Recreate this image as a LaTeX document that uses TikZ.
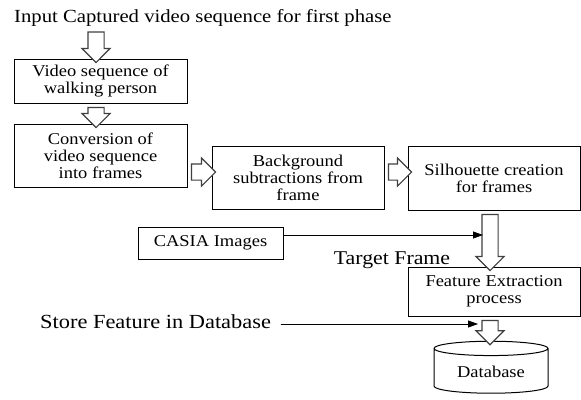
\documentclass[tikz,border=0pt]{standalone}
\usepackage{fontspec}
\setmainfont[FakeStretch=1.12]{Liberation Serif}
\usetikzlibrary{positioning,calc,shapes.arrows,shapes.geometric,arrows.meta}

\begin{document}
\begin{tikzpicture}
	[x=1pt,y=-1pt,line cap=round,
	%Styles
	stage/.style={draw,line width=1pt,align=center,font=\fontsize{16.5}{17}\selectfont,inner sep=2pt},
	caption text/.style={font=\fontsize{18.5}{20}\selectfont,inner sep=0pt},
	hollow arrow/.style={single arrow,draw=black!75,line width=1.1pt,fill=white,inner xsep=0pt,inner ysep=7.5pt,single arrow head extend=6pt},
	feed/.style={-{Triangle[length=10pt,width=7pt]},line width=0.8pt}
	]
	
	\useasboundingbox (0,0) rectangle (581,399);
	
	%Text and stages
	\node[caption text,anchor=west] (title) at (14,18) {Input Captured video sequence for first phase};
	\node[stage,minimum width=173pt,minimum height=44pt] (video) at (100.5,81) {Video sequence of\\walking person};
	\node[stage,minimum width=173pt,minimum height=63pt] (convert) at (100.5,155.5) {Conversion of\\video sequence\\into frames};
	\node[stage,minimum width=172pt,minimum height=63pt] (backsub) at (298,177.5) {Background\\subtractions from\\frame};
	\node[stage,minimum width=172pt,minimum height=64pt] (silh) at (494,178) {Silhouette creation\\for frames};
	\node[stage,minimum width=145pt,minimum height=32pt] (casia) at (210.5,243) {CASIA Images};
	\node[caption text,font=\fontsize{19.5}{20}\selectfont] (target) at (392,260) {Target Frame};
	\node[stage,minimum width=172pt,minimum height=49pt] (feature) at (494,291.5) {Feature Extraction\\process};
	\node[caption text,font=\fontsize{20}{22}\selectfont,anchor=west] (store) at (40,322) {Store Feature in Database};
	\node[stage,cylinder,shape border rotate=90,aspect=0.2,minimum width=114pt,minimum height=52pt] (db) at (491,372) {Database};
	
	%Helper points
	\coordinate (in1) at (96,28);
	\coordinate (row) at (0,172);
	\coordinate (col) at (490,0);
	\coordinate (casiaend) at (483,235);
	\coordinate (storeend) at (478,324);
	
	%Block arrows
	\foreach \s/\t in {in1/in1|-video.north, in1|-video.south/in1|-convert.north,
		convert.east|-row/backsub.west|-row, backsub.east|-row/silh.west|-row,
		col|-silh.south/col|-feature.north, col|-feature.south/col|-db.north}
	{
		\path let \p1=($(\t)-(\s)$), \n1={veclen(\x1,\y1)} in
			(\s) -- (\t) node[midway,sloped,allow upside down,hollow arrow,minimum height=\n1] {};
	}
	
	%Feeds
	\draw[feed] (casia.east |- casiaend) -- (casiaend);
	\draw[feed] ([xshift=10pt]store.east |- storeend) -- (storeend);
\end{tikzpicture}
\end{document}
